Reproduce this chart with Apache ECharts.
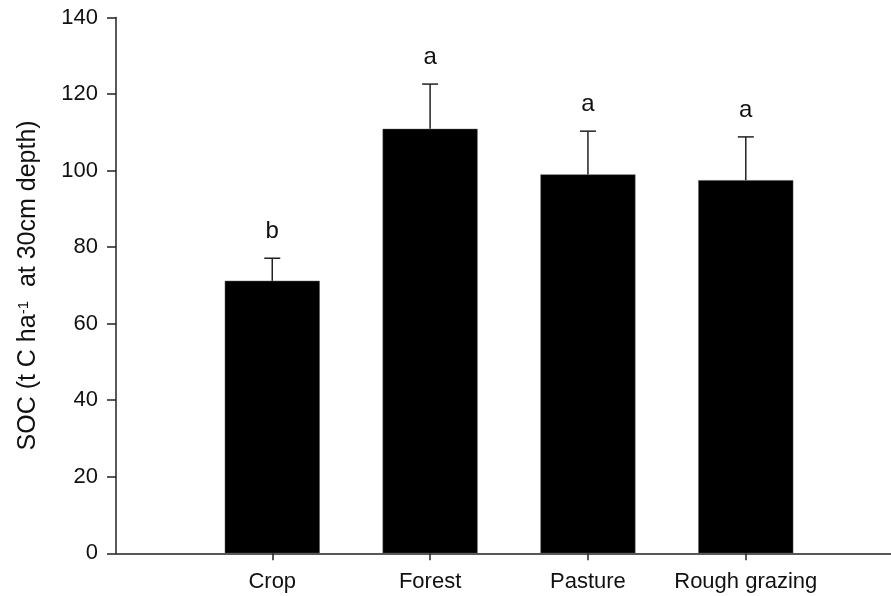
<!DOCTYPE html>
<html>
<head>
<meta charset="utf-8">
<script src="https://cdn.jsdelivr.net/npm/echarts@6/dist/echarts.min.js"></script>
<style>
  html, body { margin: 0; padding: 0; background: #fff; }
  #main { width: 891px; height: 596px; }
</style>
</head>
<body>
<div id="main"></div>
<script>
// land use categories and SOC means
var categories = ['Crop', 'Forest', 'Pasture', 'Rough grazing'];
var socMean = [71.2, 110.9, 99.0, 97.5];
var socErr = [5.9, 11.7, 11.3, 11.3];
var letters = ['b', 'a', 'a', 'a'];
var yTicks = [0, 20, 40, 60, 80, 100, 120, 140];

var font = 'Liberation Sans, Arial, sans-serif';
var axisColor = '#222';

var chart = echarts.init(document.getElementById('main'), null, { renderer: 'canvas' });

var barData = categories.map(function (c, i) { return [i + 1, socMean[i]]; });
var errData = categories.map(function (c, i) { return [i + 1, socMean[i], socErr[i], letters[i]]; });

var option = {
  backgroundColor: '#fff',
  animation: false,
  grid: { left: 116, right: 0, top: 17.5, bottom: 42.7 },
  xAxis: {
    type: 'value',
    min: 0.01,
    max: 4.92,
    splitLine: { show: false },
    axisLine: { show: true, onZero: false, lineStyle: { color: axisColor, width: 1.5 } },
    axisTick: { show: true, length: 7, customValues: [1, 2, 3, 4], lineStyle: { color: axisColor, width: 1.5 } },
    axisLabel: {
      customValues: [1, 2, 3, 4],
      margin: 18,
      fontSize: 22,
      fontFamily: font,
      color: '#111',
      formatter: function (v) { return categories[Math.round(v) - 1] || ''; }
    }
  },
  yAxis: {
    type: 'value',
    min: 0,
    max: 140,
    interval: 20,
    splitLine: { show: false },
    axisLine: { show: true, lineStyle: { color: axisColor, width: 1.5 } },
    axisTick: { show: true, length: 9, lineStyle: { color: axisColor, width: 1.5 } },
    axisLabel: { margin: 18, fontSize: 22, fontFamily: font, color: '#111' },
    name: '{n|SOC (t C ha}{s|-1}{n|  at 30cm depth)}',
    nameLocation: 'middle',
    nameRotate: 90,
    nameGap: 75,
    nameTextStyle: {
      rich: {
        n: { fontSize: 25, fontFamily: font, color: '#111' },
        s: { fontSize: 15, fontFamily: font, color: '#111', verticalAlign: 'top', padding: [0, 0, 10, 0] }
      }
    }
  },
  series: [
    {
      type: 'bar',
      data: barData,
      barWidth: 95,
      itemStyle: { color: '#000', borderColor: '#555', borderWidth: 0.5 }
    },
    {
      type: 'custom',
      data: errData,
      z: 10,
      renderItem: function (params, api) {
        var x = api.value(0);
        var m = api.value(1);
        var e = api.value(2);
        var base = api.coord([x, m]);
        var top = api.coord([x, m + e]);
        var cap = 8;
        return {
          type: 'group',
          children: [
            { type: 'line', shape: { x1: base[0], y1: base[1], x2: top[0], y2: top[1] }, style: { stroke: '#222', lineWidth: 1.5 } },
            { type: 'line', shape: { x1: top[0] - cap, y1: top[1], x2: top[0] + cap, y2: top[1] }, style: { stroke: '#222', lineWidth: 1.5 } },
            {
              type: 'text',
              x: top[0],
              y: top[1] - 15,
              style: {
                text: letters[params.dataIndex],
                fontSize: 24,
                fontFamily: font,
                fill: '#111',
                align: 'center',
                verticalAlign: 'bottom'
              }
            }
          ]
        };
      }
    }
  ]
};

chart.setOption(option);
</script>
</body>
</html>
